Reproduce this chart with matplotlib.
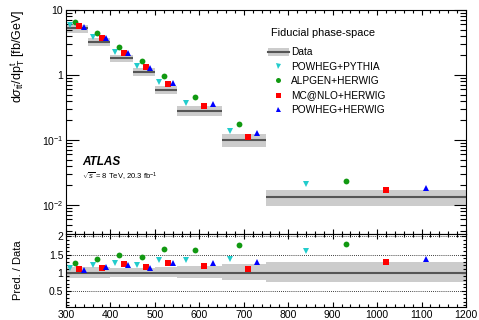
import numpy as np
import matplotlib
matplotlib.use("Agg")
import matplotlib.pyplot as plt
from matplotlib.patches import Rectangle
from matplotlib.ticker import FixedLocator, MultipleLocator, LogLocator, NullFormatter, FuncFormatter

plt.rcParams['font.family'] = ['Liberation Sans', 'DejaVu Sans']
plt.rcParams['mathtext.fontset'] = 'custom'
plt.rcParams['mathtext.rm'] = 'Liberation Sans'
plt.rcParams['mathtext.it'] = 'Liberation Sans:italic'
plt.rcParams['mathtext.bf'] = 'Liberation Sans:bold'

# bins of top-quark pT [GeV]
bin_lo = np.array([300, 350, 400, 450, 500, 550, 650, 750])
bin_hi = np.array([350, 400, 450, 500, 550, 650, 750, 1200])

# measured cross-section [fb/GeV] and relative uncertainty (up / down)
data = np.array([5.2, 3.2, 1.8, 1.13, 0.59, 0.28, 0.099, 0.0132])
unc_up = np.array([0.15, 0.15, 0.14, 0.14, 0.17, 0.18, 0.23, 0.29])
unc_dn = np.array([0.14, 0.14, 0.13, 0.13, 0.13, 0.15, 0.20, 0.27])

# predictions [fb/GeV]
powheg_pythia = np.array([5.82, 3.84, 2.29, 1.36, 0.79, 0.375, 0.137, 0.021])
alpgen_herwig = np.array([6.6, 4.42, 2.7, 1.63, 0.98, 0.456, 0.175, 0.0238])
mcatnlo_herwig = np.array([5.67, 3.65, 2.21, 1.31, 0.74, 0.33, 0.11, 0.0172])
powheg_herwig = np.array([5.56, 3.71, 2.16, 1.29, 0.75, 0.356, 0.128, 0.0183])

ratio_ticks = [0.5, 1.0, 1.5, 2.0]
ratio_labels = ["0.5", "1", "1.5", "2"]

preds = [
    ("POWHEG+PYTHIA", powheg_pythia, "v", "#22cccc", 0.2),
    ("ALPGEN+HERWIG", alpgen_herwig, "o", "#119911", 0.4),
    ("MC@NLO+HERWIG", mcatnlo_herwig, "s", "#ff0000", 0.6),
    ("POWHEG+HERWIG", powheg_herwig, "^", "#0000ff", 0.8),
]

band_col = "#cccccc"
line_col = "#555555"
msize = 4.2

fig = plt.figure(figsize=(4.79, 3.20), dpi=100)
ax1 = fig.add_axes([0.1378, 0.269, 0.835, 0.6997])
ax2 = fig.add_axes([0.1378, 0.0416, 0.835, 0.2274])

width = bin_hi - bin_lo

# top panel
ax1.bar(bin_lo, data * (unc_up + unc_dn), width=width, bottom=data * (1 - unc_dn),
        align="edge", color=band_col, linewidth=0)
ax1.hlines(data, bin_lo, bin_hi, color=line_col, lw=1.5)
for name, vals, mk, col, frac in preds:
    ax1.plot(bin_lo + frac * width, vals, ls="none", marker=mk, color=col,
             markersize=msize, markeredgewidth=0)

ax1.set_yscale("log")
ax1.set_ylim(0.0036, 10)
ax1.set_xlim(300, 1200)

def log_label(v, pos):
    e = int(round(np.log10(v)))
    if e == 0:
        return "1"
    if e == 1:
        return "10"
    return r"10$^{%d}$" % e

ax1.yaxis.set_major_locator(FixedLocator([0.01, 0.1, 1, 10]))
ax1.yaxis.set_major_formatter(FuncFormatter(log_label))
ax1.yaxis.set_minor_locator(LogLocator(base=10, subs=np.arange(2, 10)))
ax1.yaxis.set_minor_formatter(NullFormatter())
ax1.xaxis.set_major_locator(MultipleLocator(100))
ax1.xaxis.set_minor_locator(MultipleLocator(20))
ax1.tick_params(axis="y", which="major", direction="in", length=9, width=0.8,
                left=True, right=True, labelsize=7.5, pad=2)
ax1.tick_params(axis="y", which="minor", direction="in", length=4.5, width=0.8,
                left=True, right=True)
ax1.tick_params(axis="x", which="major", direction="in", length=3.5, width=0.8,
                top=True, bottom=True, labelbottom=False)
ax1.tick_params(axis="x", which="minor", direction="in", length=2, width=0.8,
                top=True, bottom=True)
ax1.set_ylabel(r"d$\sigma_{\mathrm{t\bar{t}}}$/dp$_{\mathrm{T}}^{\mathrm{t}}$ [fb/GeV]",
               fontsize=9, loc="top")
ax1.yaxis.set_label_coords(-0.097, 1.0)

ax1.text(0.04, 0.32, "ATLAS", transform=ax1.transAxes, fontsize=8.5,
         fontweight="bold", fontstyle="italic", va="center")
ax1.text(0.04, 0.255, r"$\sqrt{s}$ = 8 TeV, 20.3 fb$^{-1}$", transform=ax1.transAxes,
         fontsize=5.5, va="center")

# legend, drawn by hand so the rows are evenly spaced
base_off = 0.016
ax1.text(0.512, 0.902 - 0.018, "Fiducial phase-space", transform=ax1.transAxes,
         fontsize=7.9, va="baseline", ha="left")
row_y = [0.814, 0.75, 0.686, 0.621, 0.557]
ax1.add_patch(Rectangle((0.505, row_y[0] - 0.018), 0.052, 0.036,
                        transform=ax1.transAxes, facecolor=band_col, edgecolor="none"))
ax1.plot([0.505, 0.557], [row_y[0], row_y[0]], transform=ax1.transAxes,
         color=line_col, lw=1.5)
ax1.text(0.5618, row_y[0] - base_off, "Data", transform=ax1.transAxes,
         fontsize=7.3, va="baseline")
for (name, vals, mk, col, frac), yy in zip(preds, row_y[1:]):
    ax1.plot([0.529], [yy], transform=ax1.transAxes, ls="none", marker=mk,
             color=col, markersize=3.6, markeredgewidth=0)
    ax1.text(0.5618, yy - base_off, name, transform=ax1.transAxes,
             fontsize=7.3, va="baseline")

# ratio panel
ax2.bar(bin_lo, unc_up + unc_dn, width=width, bottom=1 - unc_dn,
        align="edge", color=band_col, linewidth=0)
ax2.hlines(np.ones(len(data)), bin_lo, bin_hi, color=line_col, lw=1.5)
for yv in [0.5, 1.5, 2.0]:
    ax2.axhline(yv, color="black", ls=(0, (1, 1.5)), lw=0.6)
for name, vals, mk, col, frac in preds:
    ax2.plot(bin_lo + frac * width, vals / data, ls="none", marker=mk, color=col,
             markersize=msize, markeredgewidth=0)

ax2.set_xlim(300, 1200)
ax2.set_ylim(0.06, 2.07)
ax2.set_yticks(ratio_ticks, labels=ratio_labels)
ax2.yaxis.set_minor_locator(MultipleLocator(0.1))
ax2.xaxis.set_major_locator(MultipleLocator(100))
ax2.xaxis.set_minor_locator(MultipleLocator(20))
ax2.tick_params(axis="both", which="major", direction="in", length=3.5, width=0.8,
                top=True, right=True, labelsize=7.5, pad=2)
ax2.tick_params(axis="both", which="minor", direction="in", length=2, width=0.8,
                top=True, right=True)
ax2.tick_params(axis="x", pad=2.5)
ax2.set_ylabel("Pred. / Data", fontsize=8)
ax2.yaxis.set_label_coords(-0.108, 0.5)

for ax in (ax1, ax2):
    for s in ax.spines.values():
        s.set_linewidth(0.8)

fig.savefig("out.png", dpi=100)
